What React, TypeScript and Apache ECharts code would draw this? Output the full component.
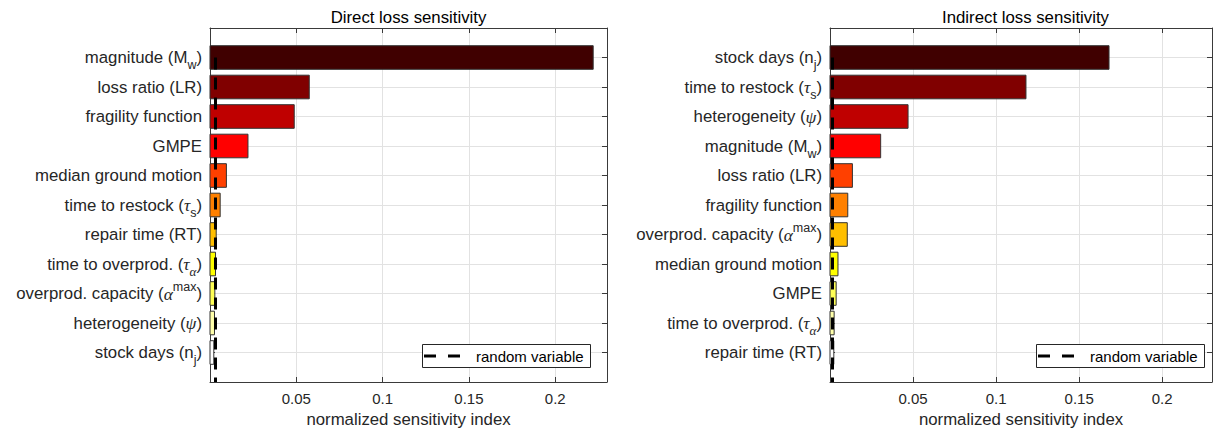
import React, { useEffect, useRef } from 'react';
import * as echarts from 'echarts';

// Direct loss: input parameters ordered by sensitivity (top to bottom)
const directLabels = [
  'magnitude (M{sub|w})',
  'loss ratio (LR)',
  'fragility function',
  'GMPE',
  'median ground motion',
  'time to restock ({gr|τ}{sub|s})',
  'repair time (RT)',
  'time to overprod. ({gr|τ}{subgr|α})',
  'overprod. capacity ({gr|α}{sup|max})',
  'heterogeneity ({gr|ψ})',
  'stock days (n{sub|j})',
];
const directValues = [0.222, 0.0575, 0.0488, 0.022, 0.0095, 0.0059, 0.0036, 0.0032, 0.0028, 0.0026, 0.0022];
const directRandom = 0.0032;

// Indirect loss
const indirectLabels = [
  'stock days (n{sub|j})',
  'time to restock ({gr|τ}{sub|s})',
  'heterogeneity ({gr|ψ})',
  'magnitude (M{sub|w})',
  'loss ratio (LR)',
  'fragility function',
  'overprod. capacity ({gr|α}{sup|max})',
  'median ground motion',
  'GMPE',
  'time to overprod. ({gr|τ}{subgr|α})',
  'repair time (RT)',
];
const indirectValues = [0.168, 0.118, 0.047, 0.0305, 0.0135, 0.0107, 0.0104, 0.0048, 0.0037, 0.0025, 0.0023];
const indirectRandom = 0.0015;

// x axis ticks and extent
const xTickValues = [0.05, 0.1, 0.15, 0.2];
const xTickLabels = ['0.05', '0.1', '0.15', '0.2'];
const xMax = 0.23;

// "hot" colormap with 11 steps
const barColors = ['#400000', '#800000', '#bf0000', '#ff0000', '#ff4000', '#ff8000', '#ffbf00', '#ffff00', '#ffff55', '#ffffaa', '#ffffff'];

const SANS = '"Liberation Sans", Arial, Helvetica, sans-serif';
const SERIF = '"Liberation Serif", "DejaVu Serif", serif';
const TXT = '#262626';
const AXIS = '#3a3a3a';
const GRID = '#e2e2e2';
const LH = 22;

const rich = {
  gr: { fontFamily: SERIF, fontStyle: 'italic', fontSize: 17.5, lineHeight: LH, color: TXT },
  sub: { fontFamily: SANS, fontSize: 12.5, lineHeight: LH, padding: [15, 0, 0, 0], color: TXT },
  subgr: { fontFamily: SERIF, fontStyle: 'italic', fontSize: 13, lineHeight: LH, padding: [15, 0, 0, 0], color: TXT },
  sup: { fontFamily: SANS, fontSize: 12.5, lineHeight: LH, padding: [0, 0, 14, 0], color: TXT },
};

function tickLabel(v: number): string {
  const k = xTickValues.findIndex((t) => Math.abs(t - v) < 1e-9);
  return k >= 0 ? xTickLabels[k] : '';
}

function buildPanel(
  i: number,
  labels: string[],
  values: number[],
  rv: number,
  left: number,
  width: number,
  title: string,
) {
  const top = 28;
  const height = 354;
  const grid = { left, top, width, height };
  const xAxes = [
    {
      gridIndex: i,
      type: 'value',
      min: 0,
      max: xMax,
      interval: 0.05,
      position: 'bottom',
      name: 'normalized sensitivity index',
      nameLocation: 'middle',
      nameGap: 29,
      nameTextStyle: { fontFamily: SANS, fontSize: 16.8, color: TXT },
      axisLine: { show: true, onZero: false, lineStyle: { color: AXIS, width: 1 } },
      axisTick: { show: true, inside: true, length: 5, lineStyle: { color: AXIS } },
      axisLabel: { fontFamily: SANS, fontSize: 15, color: TXT, margin: 9, formatter: tickLabel, showMinLabel: true, showMaxLabel: true },
      splitLine: { show: true, lineStyle: { color: GRID, width: 1 } },
    },
    {
      gridIndex: i,
      type: 'value',
      min: 0,
      max: xMax,
      interval: 0.05,
      position: 'top',
      axisLine: { show: true, onZero: false, lineStyle: { color: AXIS, width: 1 } },
      axisTick: { show: true, inside: true, length: 5, lineStyle: { color: AXIS } },
      axisLabel: { show: false },
      splitLine: { show: false },
    },
  ];
  const yAxes = [
    {
      gridIndex: i,
      type: 'value',
      inverse: true,
      min: 0,
      max: 12,
      interval: 1,
      position: 'left',
      axisLine: { show: true, onZero: false, lineStyle: { color: AXIS, width: 1 } },
      axisTick: { show: true, inside: true, length: 5, lineStyle: { color: AXIS } },
      axisLabel: {
        fontFamily: SANS,
        fontSize: 16.8,
        lineHeight: LH,
        color: TXT,
        margin: 8,
        rich,
        formatter: (v: number) => labels[v - 1] ?? '',
      },
      splitLine: { show: true, lineStyle: { color: GRID, width: 1 } },
    },
    {
      gridIndex: i,
      type: 'value',
      inverse: true,
      min: 0,
      max: 12,
      interval: 1,
      position: 'right',
      axisLine: { show: true, onZero: false, lineStyle: { color: AXIS, width: 1 } },
      axisTick: { show: true, inside: true, length: 5, lineStyle: { color: AXIS } },
      axisLabel: { show: false },
      splitLine: { show: false },
    },
  ];
  const series = [
    {
      type: 'custom',
      xAxisIndex: 2 * i,
      yAxisIndex: 2 * i,
      silent: true,
      encode: { x: 0, y: 1 },
      data: values.map((v, k) => [v, k + 1]),
      renderItem: (params: any, api: any) => {
        const v = api.value(0);
        const row = api.value(1);
        const a = api.coord([0, row]);
        const b = api.coord([v, row]);
        const h = api.size([0, 1])[1] * 0.8;
        return {
          type: 'rect',
          shape: { x: a[0], y: a[1] - h / 2, width: b[0] - a[0], height: h },
          style: { fill: barColors[params.dataIndex], stroke: '#333333', lineWidth: 1 },
        };
      },
    },
    {
      type: 'line',
      xAxisIndex: 2 * i,
      yAxisIndex: 2 * i,
      silent: true,
      symbol: 'none',
      data: [
        [rv, 1],
        [rv, 12],
      ],
      lineStyle: { color: '#000000', width: 3, type: [12, 8] },
    },
  ];
  // legend box, placed in the lower right corner of the axes
  const lx = left + width - 185;
  const ly = 344;
  const graphics = [
    {
      type: 'text',
      z: 100,
      x: left + width / 2,
      y: 17,
      style: { text: title, fontFamily: SANS, fontSize: 16.8, fill: '#000000', align: 'center', verticalAlign: 'middle' },
    },
    {
      type: 'rect',
      z: 100,
      shape: { x: lx + 0.5, y: ly + 0.5, width: 168, height: 23 },
      style: { fill: '#ffffff', stroke: '#262626', lineWidth: 1 },
    },
    {
      type: 'line',
      z: 101,
      shape: { x1: lx + 2, y1: ly + 12, x2: lx + 39, y2: ly + 12 },
      style: { stroke: '#000000', lineWidth: 3, lineDash: [12, 12] },
    },
    {
      type: 'text',
      z: 101,
      x: lx + 54,
      y: ly + 12,
      style: { text: 'random variable', fontFamily: SANS, fontSize: 15, fill: '#000000', align: 'left', verticalAlign: 'middle' },
    },
  ];
  return { grid, xAxes, yAxes, series, graphics };
}

export default function App() {
  const ref = useRef<HTMLDivElement>(null);
  useEffect(() => {
    if (!ref.current) return;
    const chart = echarts.init(ref.current, undefined, { renderer: 'svg' });
    const p0 = buildPanel(0, directLabels, directValues, directRandom, 210, 397, 'Direct loss sensitivity');
    const p1 = buildPanel(1, indirectLabels, indirectValues, indirectRandom, 830, 391, 'Indirect loss sensitivity');
    chart.setOption({
      animation: false,
      textStyle: { fontFamily: SANS },
      grid: [p0.grid, p1.grid],
      xAxis: [...p0.xAxes, ...p1.xAxes],
      yAxis: [...p0.yAxes, ...p1.yAxes],
      series: [...p0.series, ...p1.series],
      graphic: [...p0.graphics, ...p1.graphics],
    });
    return () => chart.dispose();
  }, []);
  return <div ref={ref} style={{ position: 'absolute', left: 0, top: 0, width: 1215, height: 436 }} />;
}
